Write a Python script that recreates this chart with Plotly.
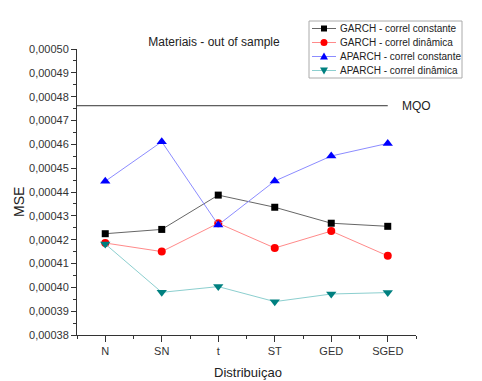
import plotly.graph_objects as go

# Distributions on the x axis
distribuicoes = ["N", "SN", "t", "ST", "GED", "SGED"]

# Out-of-sample MSE per model
garch_const = [0.0004225, 0.0004243, 0.0004387, 0.0004336, 0.0004269, 0.0004256]
garch_dyn = [0.0004186, 0.0004150, 0.0004269, 0.0004165, 0.0004236, 0.0004132]
aparch_const = [0.0004445, 0.0004611, 0.0004262, 0.0004446, 0.0004551, 0.0004604]
aparch_dyn = [0.0004182, 0.0003979, 0.0004003, 0.0003940, 0.0003972, 0.0003978]

# Benchmark (ordinary least squares)
mqo = 0.0004762

xpos = list(range(len(distribuicoes)))

series = [
    ("GARCH - correl constante", garch_const, "#000000", "#666666", "square", 7),
    ("GARCH - correl dinâmica", garch_dyn, "#ff0000", "#ff8a8a", "circle", 8),
    ("APARCH - correl constante", aparch_const, "#0000ff", "#8c8cff", "triangle-up", 9),
    ("APARCH - correl dinâmica", aparch_dyn, "#008080", "#8ccfcf", "triangle-down", 9),
]

# Small marker glyphs (pixel paths) for the compact legend
legend_glyphs = {
    "square": "M-3,-3 L3,-3 L3,3 L-3,3 Z",
    "triangle-up": "M-4,-3 L4,-3 L0,4 Z",
    "triangle-down": "M-4,3 L4,3 L0,-4 Z",
}

W, H = 482, 381
ML, MR, MT, MB = 77, 66, 49, 46
PW, PH = W - ML - MR, H - MT - MB


def px(x):
    return (x - ML) / PW


def py(y):
    return (H - MB - y) / PH


fig = go.Figure()
for name, vals, mcol, lcol, sym, size in series:
    fig.add_trace(go.Scatter(
        x=xpos, y=vals, name=name, mode="lines+markers", showlegend=False,
        line=dict(color=lcol, width=1),
        marker=dict(color=mcol, symbol=sym, size=size, line=dict(width=0)),
    ))

# MQO reference line
fig.add_trace(go.Scatter(
    x=[-0.5, 5], y=[mqo, mqo], mode="lines", showlegend=False,
    line=dict(color="#333333", width=1), hoverinfo="skip",
))
fig.add_annotation(x=5.22, y=mqo, text="MQO", showarrow=False, xanchor="left",
                   yanchor="middle", font=dict(size=12, color="#222222"))

# Compact legend box
fig.add_shape(type="rect", xref="paper", yref="paper",
              x0=px(309), x1=px(462), y0=py(21), y1=py(78),
              line=dict(color="#aaaaaa", width=1), fillcolor="white", layer="above")
row_y = [28.5, 42.5, 56.5, 70.5]
for (name, vals, mcol, lcol, sym, size), ry in zip(series, row_y):
    fig.add_shape(type="line", xref="paper", yref="paper",
                  x0=px(312), x1=px(336), y0=py(ry), y1=py(ry),
                  line=dict(color=lcol, width=1), layer="above")
    if sym == "circle":
        fig.add_shape(type="circle", xref="paper", yref="paper",
                      xsizemode="pixel", ysizemode="pixel",
                      xanchor=px(324), yanchor=py(ry), x0=-3.5, x1=3.5, y0=-3.5, y1=3.5,
                      fillcolor=mcol, line=dict(width=0), layer="above")
    else:
        fig.add_shape(type="path", xref="paper", yref="paper",
                      xsizemode="pixel", ysizemode="pixel",
                      xanchor=px(324), yanchor=py(ry), path=legend_glyphs[sym],
                      fillcolor=mcol, line=dict(width=0), layer="above")
    fig.add_annotation(xref="paper", yref="paper", x=px(338), y=py(ry), text=name,
                       showarrow=False, xanchor="left", yanchor="middle",
                       font=dict(size=10, color="#222222"))

font = "Liberation Sans, Arial, sans-serif"
fig.update_layout(
    width=W, height=H,
    margin=dict(l=ML, r=MR, t=MT, b=MB, autoexpand=False),
    paper_bgcolor="white", plot_bgcolor="white",
    separators=",.",
    font=dict(family=font, size=11, color="#333333"),
    title=dict(text="Materiais - out of sample", x=214 / W, xanchor="center",
               y=1 - 42 / H, yanchor="middle", font=dict(size=12, color="#222222")),
    showlegend=False,
    xaxis=dict(
        automargin=False,
        range=[-0.5, 5.5], tickmode="array", tickvals=xpos, ticktext=distribuicoes,
        showgrid=False, zeroline=False, showline=True, linecolor="#333333", linewidth=1,
        ticks="outside", ticklen=6, tickcolor="#333333", tickfont=dict(size=11),
        minor=dict(tickmode="linear", tick0=0.5, dtick=1, ticks="outside", ticklen=3,
                   tickcolor="#333333", showgrid=False),
    ),
    yaxis=dict(
        automargin=False,
        range=[0.00038, 0.00050], tickmode="linear", tick0=0.00038, dtick=0.00001,
        tickformat=".5f", showgrid=False, zeroline=False, showline=True,
        linecolor="#333333", linewidth=1, ticks="outside", ticklen=5,
        tickcolor="#333333", tickfont=dict(size=11),
        minor=dict(dtick=0.000005, ticks="outside", ticklen=3, tickcolor="#333333",
                   showgrid=False),
    ),
)

# Axis titles
fig.add_annotation(xref="paper", yref="paper", x=px(248), y=py(372), text="Distribuiçao",
                   showarrow=False, xanchor="center", yanchor="middle",
                   font=dict(size=13, color="#222222"))
fig.add_annotation(xref="paper", yref="paper", x=px(19), y=py(202), text="MSE",
                   textangle=-90, showarrow=False, xanchor="center", yanchor="middle",
                   font=dict(size=14, color="#222222"))

fig.write_html("out.html")
